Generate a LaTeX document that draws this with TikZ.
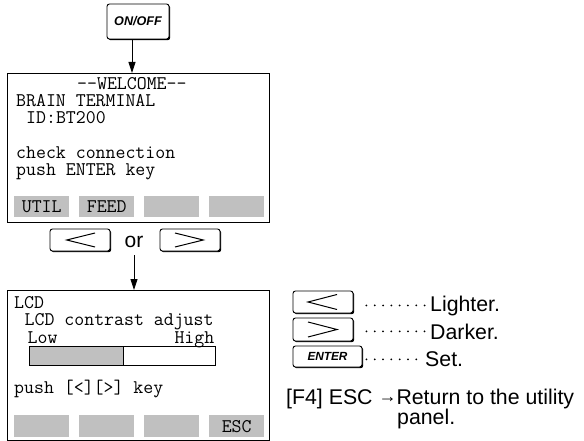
\documentclass[tikz,border=0pt]{standalone}
\usepackage{fontspec}
\setmainfont{Liberation Sans}
\usetikzlibrary{arrows.meta,shadows}
\definecolor{btngray}{RGB}{192,192,192}
\newcommand{\monosz}{\ttfamily\fontsize{19.3}{20}\selectfont}
\newcommand{\sanssz}{\fontsize{21.3}{22}\selectfont}
\begin{document}
\begin{tikzpicture}[x=1pt,y=-1pt,
  mono/.style={font=\monosz, inner sep=0pt, anchor=base west},
  sans/.style={font=\sanssz, inner sep=0pt, anchor=base west},
  panel/.style={draw, line width=1.1pt, anchor=north west, inner sep=0pt},
  btn/.style={fill=btngray, anchor=north west, minimum width=55pt, inner sep=0pt, font=\monosz},
  keybox/.style={draw, line width=0.9pt, rounded corners=2.5pt, fill=white, inner sep=0pt,
     drop shadow={shadow xshift=1.2pt, shadow yshift=-1.2pt, fill=black, opacity=1}},
  chev/.style={line width=1pt, line join=miter},
  arr/.style={line width=0.9pt, -{Triangle[length=11pt,width=7pt]}},
  leader/.style={line width=2pt, line cap=round, dash pattern=on 0pt off 8.3pt},
  keylbl/.style={font=\bfseries\itshape\fontsize{12.6}{13}\selectfont}
]
\useasboundingbox (0,0) rectangle (584,441);

% ON/OFF key
\node[keybox, minimum width=62pt, minimum height=35pt, keylbl] (onoff) at (138,21.5) {ON/OFF};

% Panel 1
\node[panel, minimum width=262pt, minimum height=149pt] (p1) at (7,73) {};
\draw[arr] ([xshift=-6pt]onoff.south) -- ([xshift=-6pt]onoff.south |- p1.north);

\node[mono] (w1) at (77,89.5) {-\kern0pt-WELCOME-\kern0pt-};
\node[mono] (w2) at (16,106.5) {BRAIN TERMINAL};
\node[mono] (w3) at (26,124) {ID:BT200};
\node[mono] (w4) at (16,158.3) {check connection};
\node[mono] (w5) at (16,176) {push ENTER key};

\node[btn, minimum height=21pt] (b11) at (14,196) {UTIL};
\node[btn, minimum height=21pt] (b12) at (79,196) {FEED};
\node[btn, minimum height=21pt] (b13) at (144,196) {};
\node[btn, minimum height=21pt] (b14) at (209,196) {};

% keys < or >
\node[keybox, minimum width=60pt, minimum height=22pt] (kl) at (80,240) {};
\draw[chev] ([shift={(15,-7)}]kl.center) -- ([shift={(-13.3,0)}]kl.center) -- ([shift={(15,7)}]kl.center);
\node[keybox, minimum width=60pt, minimum height=22pt] (kr) at (190,240) {};
\draw[chev] ([shift={(-15,-7)}]kr.center) -- ([shift={(13.3,0)}]kr.center) -- ([shift={(-15,7)}]kr.center);
\node[sans, font=\fontsize{21}{21}\selectfont, anchor=base] (or) at (134,247) {or};

% Panel 2
\node[panel, minimum width=262pt, minimum height=149.5pt] (p2) at (7,290) {};
\draw[arr, shorten <=8pt] (or.south) -- (or.south |- p2.north);

\node[mono] (l1) at (14,308.5) {LCD};
\node[mono] (l2) at (24.5,325.5) {LCD contrast adjust};
\node[mono] (l3) at (27.5,343.5) {Low};
\node[mono, anchor=base east] (l4) at (214.5,343.5) {High};
\fill[btngray] (29,346) rectangle (123,365);
\draw[line width=0.9pt] (29,346) rectangle (215,365);
\draw[line width=0.9pt] (123,346) -- (123,365);
\node[mono] (l5) at (14,393) {push [<][>] key};

\node[btn, minimum height=22pt] (b21) at (14,415) {};
\node[btn, minimum height=22pt] (b22) at (79,415) {};
\node[btn, minimum height=22pt] (b23) at (144,415) {};
\node[btn, minimum height=22pt] (b24) at (209,415) {ESC};

% Legend
\node[keybox, minimum width=60pt, minimum height=22pt] (k1) at (323,302) {};
\draw[chev] ([shift={(14,-7.5)}]k1.center) -- ([shift={(-15,0)}]k1.center) -- ([shift={(14,7.5)}]k1.center);
\node[keybox, minimum width=60pt, minimum height=23pt] (k2) at (323,329.5) {};
\draw[chev] ([shift={(-15,-7.5)}]k2.center) -- ([shift={(14,0)}]k2.center) -- ([shift={(-15,7.5)}]k2.center);
\node[keybox, minimum width=69pt, minimum height=21pt, keylbl, font=\bfseries\itshape\fontsize{11.8}{12}\selectfont] (k3) at (327.5,356.5) {ENTER};

\node[sans] (t1) at (430,311) {Lighter.};
\node[sans] (t2) at (430,339) {Darker.};
\node[sans] (t3) at (425,366.7) {Set.};
\draw[leader, shorten <=13pt, shorten >=5pt] (t1.west -| k1.east) -- (t1.west);
\draw[leader, shorten <=13pt, shorten >=5pt] (t2.west -| k2.east) -- (t2.west);
\draw[leader, shorten <=4pt, shorten >=5pt] (t3.west -| k3.east) -- (t3.west);

\node[sans] (t4) at (286,404.5) {[F4] ESC \raisebox{2.5pt}{\fontsize{18}{18}\selectfont →}Return to the utility};
\node[sans] (t5) at (397,424.5) {panel.};
\end{tikzpicture}
\end{document}
